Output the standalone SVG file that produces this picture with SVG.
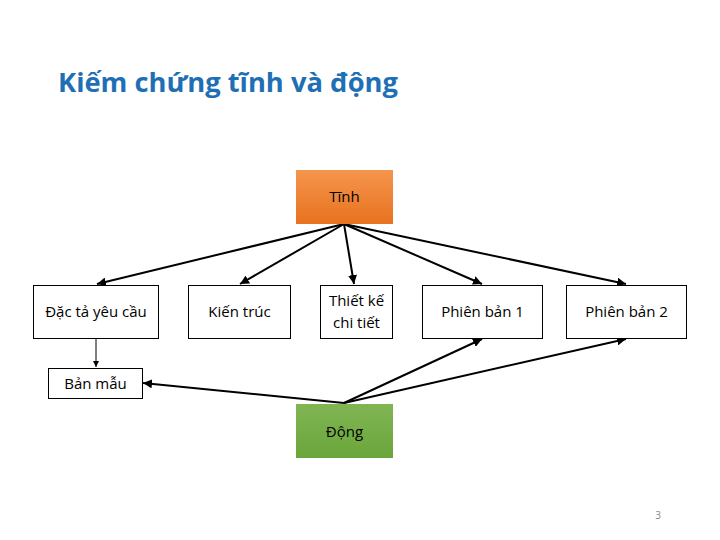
<svg xmlns="http://www.w3.org/2000/svg" width="720" height="540" viewBox="0 0 720 540">
<defs>
<linearGradient id="gOrange" x1="0" y1="0" x2="0" y2="1"><stop offset="0" stop-color="#f5954d"/><stop offset="1" stop-color="#e8721f"/></linearGradient>
<linearGradient id="gGreen" x1="0" y1="0" x2="0" y2="1"><stop offset="0" stop-color="#80b554"/><stop offset="1" stop-color="#6aa63a"/></linearGradient>
<marker id="arr" viewBox="0 0 10 10" refX="10" refY="5" markerWidth="6" markerHeight="6" markerUnits="userSpaceOnUse" orient="auto"><path d="M0,0 L10,5 L0,10 z" fill="#000"/></marker>
<marker id="arrS" viewBox="0 0 10 10" refX="10" refY="5" markerWidth="9" markerHeight="9" markerUnits="userSpaceOnUse" orient="auto"><path d="M0,0 L10,5 L0,10 z" fill="#000"/></marker>
</defs>
<style>
.box{fill:#fff;stroke:#000;stroke-width:1}
.lbl{font-family:"Open Sans","Liberation Sans",sans-serif;font-size:15px;fill:#000;text-anchor:middle}
.ln{stroke:#000;stroke-width:2;fill:none;marker-end:url(#arrS)}
.thin{stroke:#000;stroke-width:1;fill:none;marker-end:url(#arr)}
</style>
<rect width="720" height="540" fill="#fff"/>
<text x="58" y="92" font-family="'Open Sans','Liberation Sans',sans-serif" font-weight="bold" font-size="27" fill="#1f6fb5" textLength="340" lengthAdjust="spacingAndGlyphs">Kiếm chứng tĩnh và động</text>
<g id="connectors">
<line class="ln" x1="344" y1="224" x2="97" y2="284"/>
<line class="ln" x1="344" y1="224" x2="240" y2="284"/>
<line class="ln" x1="344" y1="224" x2="354" y2="284"/>
<line class="ln" x1="344" y1="224" x2="482" y2="284"/>
<line class="ln" x1="344" y1="224" x2="626" y2="284"/>
<line class="ln" x1="344" y1="403" x2="143" y2="383"/>
<line class="ln" x1="344" y1="403" x2="482" y2="339"/>
<line class="ln" x1="344" y1="403" x2="626" y2="339"/>
<line class="thin" x1="96" y1="338" x2="96" y2="367"/>
</g>
<g id="tinh"><rect x="296" y="170" width="97" height="54" fill="url(#gOrange)"/><text class="lbl" x="344.5" y="202">Tĩnh</text></g>
<g id="dong"><rect x="296" y="404" width="97" height="54" fill="url(#gGreen)"/><text class="lbl" x="344.5" y="437">Động</text></g>
<g id="dacta"><rect class="box" x="33.5" y="285.5" width="125" height="53"/><text class="lbl" x="96" y="317">Đặc tả yêu cầu</text></g>
<g id="kientruc"><rect class="box" x="188.5" y="285.5" width="102" height="53"/><text class="lbl" x="239.5" y="317">Kiến trúc</text></g>
<g id="thietke"><rect class="box" x="320.5" y="285.5" width="72" height="53"/><text class="lbl" x="356.5" y="306">Thiết kế</text><text class="lbl" x="356.5" y="328">chi tiết</text></g>
<g id="phienban1"><rect class="box" x="422.5" y="285.5" width="120" height="53"/><text class="lbl" x="482.5" y="317">Phiên bản 1</text></g>
<g id="phienban2"><rect class="box" x="566.5" y="285.5" width="120" height="53"/><text class="lbl" x="626.5" y="317">Phiên bản 2</text></g>
<g id="banmau"><rect class="box" x="48.5" y="368.5" width="94" height="30"/><text class="lbl" x="95.5" y="389">Bản mẫu</text></g>
<text x="658" y="519" font-family="'Open Sans','Liberation Sans',sans-serif" font-size="10" fill="#888" text-anchor="middle">3</text>
</svg>
